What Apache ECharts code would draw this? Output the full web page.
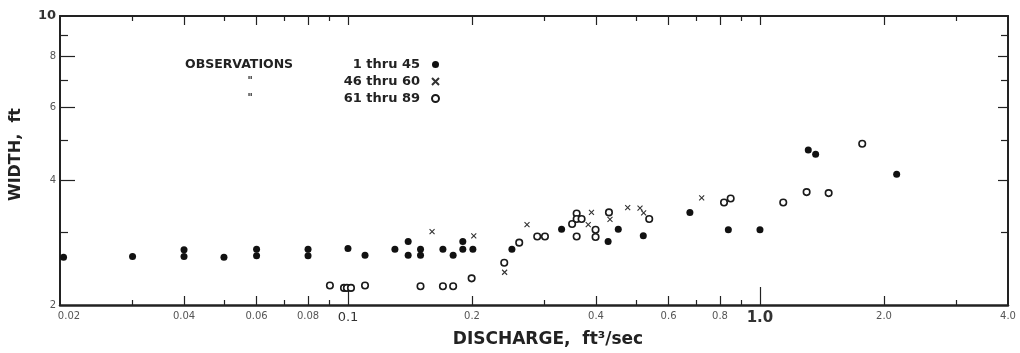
<!DOCTYPE html>
<html><head><meta charset="utf-8">
<script src="https://cdn.jsdelivr.net/npm/echarts@6/dist/echarts.min.js"></script>
<style>html,body{margin:0;padding:0;background:#fff}#c{width:1020px;height:353px}</style>
</head><body><div id="c"></div>
<script>
// ---- data ----
const obs1Discharge = [0.0204,0.030,0.040,0.040,0.050,0.060,0.060,0.080,0.080,0.100,0.110,0.130,0.140,0.140,0.150,0.150,0.170,0.180,0.190,0.190,0.201,0.250,0.330,0.428,0.453,0.521,0.676,0.838,1.00,1.31,1.365,2.147];
const obs1Width     = [2.61,2.62,2.72,2.62,2.61,2.73,2.63,2.73,2.63,2.74,2.64,2.73,2.85,2.64,2.73,2.64,2.73,2.64,2.85,2.73,2.73,2.73,3.05,2.85,3.05,2.94,3.35,3.04,3.04,4.74,4.63,4.14];
const obs2Discharge = [0.160,0.202,0.240,0.272,0.390,0.383,0.4325,0.4775,0.5115,0.522,0.722];
const obs2Width     = [3.01,2.94,2.40,3.13,3.35,3.13,3.22,3.44,3.43,3.34,3.63];
const obs3Discharge = [0.0904,0.0978,0.0994,0.1017,0.110,0.150,0.170,0.180,0.1996,0.2395,0.2604,0.288,0.3007,0.350,0.359,0.359,0.369,0.359,0.399,0.399,0.430,0.5385,0.818,0.849,1.139,1.298,1.468,1.771];
const obs3Width     = [2.23,2.20,2.20,2.20,2.23,2.22,2.22,2.22,2.32,2.53,2.83,2.93,2.93,3.14,3.33,3.23,3.23,2.93,3.04,2.92,3.35,3.23,3.54,3.62,3.54,3.75,3.73,4.91];

const legendLeft  = ['OBSERVATIONS', '"', '"'];
const legendRight = ['1 thru 45', '46 thru 60', '61 thru 89'];
const seriesNames = ['OBSERVATIONS 1 thru 45', '" 46 thru 60', '" 61 thru 89'];

const xLabelValues = [0.02,0.04,0.06,0.08,0.1,0.2,0.4,0.6,0.8,1,2,4];
const xLabelTexts  = ['0.02','0.04','0.06','0.08','0.1','0.2','0.4','0.6','0.8','1.0','2.0','4.0'];
const xDecadeTicks = [0.1,1];
const xMajorTicks  = [0.04,0.06,0.08,0.2,0.4,0.6,0.8,2];
const xMinorTicks  = [0.03,0.05,0.07,0.09,0.3,0.5,0.7,0.9,3];
const xTopMajor    = [0.04,0.06,0.08,0.1,0.2,0.4,0.6,0.8,1,2];
const yLabelValues = [2,4,6,8,10];
const yLabelTexts  = ['2','4','6','8','10'];
const yMajorTicks  = [4,6,8];
const yMinorTicks  = [3,5,7,9];

const X_MIN = 0.02, X_MAX = 4, Y_MIN = 2, Y_MAX = 10;
const INK = '#222';

function pairs(a, b) { return a.map((v, i) => [v, b[i]]); }
function findIdx(arr, v) { for (let i = 0; i < arr.length; i++) if (Math.abs(arr[i] - v) < 1e-9 * Math.max(1, arr[i]) + 1e-9) return i; return -1; }

function xAxisDef(opts) {
  return Object.assign({
    type: 'log', logBase: 10, min: X_MIN, max: X_MAX, gridIndex: 0,
    axisLine: { show: false }, splitLine: { show: false },
    axisLabel: { show: false }, axisPointer: { show: false }
  }, opts);
}
function yAxisDef(opts) {
  return Object.assign({
    type: 'log', logBase: 10, min: Y_MIN, max: Y_MAX, gridIndex: 0,
    axisLine: { show: false }, splitLine: { show: false },
    axisLabel: { show: false }, axisPointer: { show: false }
  }, opts);
}

const chart = echarts.init(document.getElementById('c'), null, { renderer: 'canvas' });
chart.setOption({
  animation: false,
  backgroundColor: '#fff',
  grid: { left: 60, right: 12, top: 16, bottom: 48, containLabel: false },
  legend: {
    left: 185, top: 57, orient: 'vertical', align: 'right', padding: 0,
    itemWidth: 7, itemHeight: 7, itemGap: 2,
    selectedMode: false,
    data: seriesNames,
    formatter: function (name) {
      const i = seriesNames.indexOf(name);
      return (i === 0 ? '{a|' : '{d|') + legendLeft[i] + '}{b|' + legendRight[i] + '}';
    },
    textStyle: {
      fontFamily: 'DejaVu Sans', fontWeight: 'bold', fontSize: 12.5, color: INK, lineHeight: 15,
      rich: {
        a: { width: 130, align: 'left', fontFamily: 'DejaVu Sans', fontWeight: 'bold', fontSize: 12.5, color: INK },
        d: { width: 130, align: 'center', fontFamily: 'DejaVu Sans', fontWeight: 'bold', fontSize: 10, color: INK },
        b: { width: 105, align: 'right', padding: [0, 7, 0, 0], fontFamily: 'DejaVu Sans', fontWeight: 'bold', fontSize: 13, color: INK }
      }
    }
  },
  xAxis: [
    xAxisDef({
      position: 'bottom',
      name: 'DISCHARGE,  ft\u00B3/sec', nameLocation: 'middle', nameGap: 23,
      nameTextStyle: { fontFamily: 'DejaVu Sans', fontWeight: 'bold', fontSize: 17, color: INK, padding: [0, 0, 0, 28] },
      axisLine: { show: true, lineStyle: { color: INK, width: 2.5 } },
      axisTick: { show: true, inside: true, length: 18, customValues: xDecadeTicks, lineStyle: { color: INK, width: 1.2 } },
      axisLabel: {
        show: true, margin: 6, customValues: xLabelValues,
        fontFamily: 'DejaVu Sans', fontSize: 10, color: '#555',
        formatter: function (v) {
          const i = findIdx(xLabelValues, v);
          const t = i >= 0 ? xLabelTexts[i] : '';
          if (t === '0.1') return '{m|' + t + '}';
          if (t === '1.0') return '{big|' + t + '}';
          if (i === 0) return '{first|' + t + '}';
          return t;
        },
        rich: {
          m: { fontFamily: 'DejaVu Sans', fontSize: 13, color: '#333' },
          big: { fontFamily: 'DejaVu Sans', fontSize: 15, fontWeight: 'bold', color: '#333' },
          first: { fontFamily: 'DejaVu Sans', fontSize: 10, color: '#555', padding: [0, 0, 0, 18] }
        }
      }
    }),
    xAxisDef({ position: 'bottom', axisTick: { show: true, inside: true, length: 9, customValues: xMajorTicks, lineStyle: { color: INK, width: 1.2 } } }),
    xAxisDef({ position: 'bottom', axisTick: { show: true, inside: true, length: 5, customValues: xMinorTicks, lineStyle: { color: INK, width: 1.2 } } }),
    xAxisDef({ position: 'top', axisLine: { show: true, lineStyle: { color: INK, width: 2 } },
      axisTick: { show: true, inside: true, length: 9, customValues: xTopMajor, lineStyle: { color: INK, width: 1.2 } } }),
    xAxisDef({ position: 'top', axisTick: { show: true, inside: true, length: 5, customValues: xMinorTicks, lineStyle: { color: INK, width: 1.2 } } })
  ],
  yAxis: [
    yAxisDef({
      position: 'left',
      name: 'WIDTH,  ft', nameLocation: 'middle', nameGap: 36,
      nameTextStyle: { fontFamily: 'DejaVu Sans', fontWeight: 'bold', fontSize: 16, color: INK, padding: [0, 0, 0, 12] },
      axisLine: { show: true, lineStyle: { color: INK, width: 2 } },
      axisTick: { show: true, inside: true, length: 15, customValues: yMajorTicks, lineStyle: { color: INK, width: 1.2 } },
      axisLabel: {
        show: true, margin: 4, customValues: yLabelValues,
        fontFamily: 'DejaVu Sans', fontSize: 10, color: '#555',
        formatter: function (v) {
          const i = findIdx(yLabelValues, v);
          const t = i >= 0 ? yLabelTexts[i] : '';
          return t === '10' ? '{big|' + t + '}' : t;
        },
        rich: { big: { fontFamily: 'DejaVu Sans', fontSize: 13, fontWeight: 'bold', color: '#333' } }
      }
    }),
    yAxisDef({ position: 'left', axisTick: { show: true, inside: true, length: 8, customValues: yMinorTicks, lineStyle: { color: INK, width: 1.2 } } }),
    yAxisDef({ position: 'right', axisLine: { show: true, lineStyle: { color: INK, width: 2 } },
      axisTick: { show: true, inside: true, length: 10, customValues: yMajorTicks, lineStyle: { color: INK, width: 1.2 } } }),
    yAxisDef({ position: 'right', axisTick: { show: true, inside: true, length: 7, customValues: yMinorTicks, lineStyle: { color: INK, width: 1.2 } } })
  ],
  series: [
    { name: seriesNames[0], type: 'scatter', xAxisIndex: 0, yAxisIndex: 0,
      symbol: 'circle', symbolSize: 7,
      itemStyle: { color: '#111', opacity: 1 },
      data: pairs(obs1Discharge, obs1Width) },
    { name: seriesNames[1], type: 'scatter', xAxisIndex: 0, yAxisIndex: 0,
      symbol: 'path://M0,0L10,10M0,10L10,0', symbolSize: 5,
      itemStyle: { color: 'transparent', borderColor: '#333', borderWidth: 1.1, opacity: 1 },
      data: pairs(obs2Discharge, obs2Width) },
    { name: seriesNames[2], type: 'scatter', xAxisIndex: 0, yAxisIndex: 0,
      symbol: 'circle', symbolSize: 6.5,
      itemStyle: { color: '#fff', borderColor: '#1a1a1a', borderWidth: 1.6, opacity: 1 },
      data: pairs(obs3Discharge, obs3Width) }
  ]
});
</script>
</body></html>
